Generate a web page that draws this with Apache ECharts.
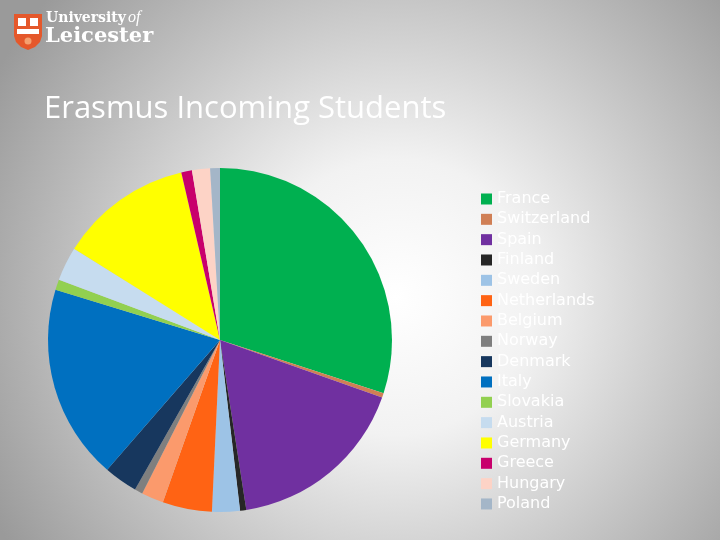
<!DOCTYPE html>
<html>
<head>
<meta charset="utf-8">
<script src="https://cdn.jsdelivr.net/npm/echarts@6/dist/echarts.min.js"></script>
<style>html,body{margin:0;padding:0;}#c{width:720px;height:540px;}</style>
</head>
<body>
<div id="c"></div>
<script>
const categories = ['France','Switzerland','Spain','Finland','Sweden','Netherlands','Belgium','Norway','Denmark','Italy','Slovakia','Austria','Germany','Greece','Hungary','Poland'];
const values = [108, 1.5, 61.7, 2.1, 9.4, 16.7, 7.5, 2.7, 11.4, 66, 3.5, 11.5, 45, 3.6, 6.1, 3.3];
const colors = ['#00b050','#d07f55','#7030a0','#262626','#9dc3e6','#ff6314','#fb9a6c','#7f7f7f','#17375e','#0070c0','#92d050','#c6dcef','#ffff00','#c8006c','#fdd3c6','#a4b6c8'];

const chart = echarts.init(document.getElementById('c'));
chart.setOption({
  animation: false,
  backgroundColor: {
    type: 'radial', x: 0.55, y: 0.55, r: 0.85,
    colorStops: [{offset: 0, color: '#ffffff'}, {offset: 0.3, color: '#f2f2f2'}, {offset: 1, color: '#9a9a9a'}]
  },
  color: colors,
  title: {
    text: 'Erasmus Incoming Students',
    left: 39, top: 89,
    textStyle: {color: '#ffffff', fontFamily: 'Open Sans', fontWeight: 'normal', fontSize: 31}
  },
  legend: {
    orient: 'vertical', left: 476, top: 186,
    icon: 'rect', itemWidth: 11, itemHeight: 11, itemGap: 4.33,
    textStyle: {color: '#ffffff', fontFamily: 'DejaVu Sans', fontSize: 16, lineHeight: 16},
    data: categories
  },
  graphic: [
    {type: 'polygon', shape: {points: [[14,14],[42,14],[42,36],[40,42],[35,47],[28,50],[21,47],[16,42],[14,36]]}, style: {fill: '#e5582b'}},
    {type: 'rect', shape: {x: 18, y: 18, width: 8, height: 8}, style: {fill: '#ffffff'}},
    {type: 'rect', shape: {x: 30, y: 18, width: 8, height: 8}, style: {fill: '#ffffff'}},
    {type: 'rect', shape: {x: 17, y: 29, width: 22, height: 5}, style: {fill: '#ffffff'}},
    {type: 'circle', shape: {cx: 28, cy: 41, r: 3.5}, style: {fill: '#f5a070'}},
    {type: 'text', left: 46, top: 11, style: {text: 'University', fill: '#ffffff', font: 'bold 14px "DejaVu Serif"'}},
    {type: 'text', left: 128, top: 10, style: {text: 'of', fill: '#ffffff', font: 'italic 16px "Liberation Serif"'}},
    {type: 'text', left: 45, top: 26, style: {text: 'Leicester', fill: '#ffffff', font: 'bold 21px "DejaVu Serif"'}}
  ],
  series: [{
    type: 'pie',
    center: [220, 340],
    radius: 172,
    startAngle: 90,
    clockwise: true,
    label: {show: false},
    labelLine: {show: false},
    emphasis: {disabled: true},
    itemStyle: {borderWidth: 0},
    data: categories.map((n, i) => ({name: n, value: values[i]}))
  }]
});
</script>
</body>
</html>
